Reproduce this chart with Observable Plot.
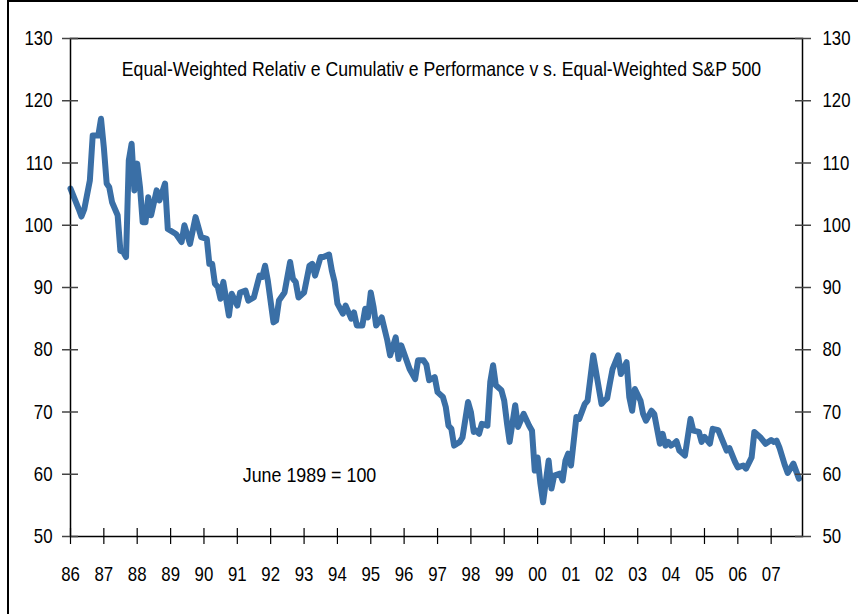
<!DOCTYPE html>
<html>
<head>
<meta charset="utf-8">
<script src="https://cdn.jsdelivr.net/npm/d3@7"></script>
<script src="https://cdn.jsdelivr.net/npm/@observablehq/plot@0.6"></script>
<style>
  html, body { margin: 0; padding: 0; background: #fff; }
  #wrap { position: relative; width: 858px; height: 614px; overflow: hidden; }
  #border { position: absolute; left: 7px; top: 0px; width: 900px; height: 700px;
            border-left: 2.5px solid #000; border-top: 2.5px solid #000; pointer-events: none; }
</style>
</head>
<body>
<div id="wrap"><div id="chart"></div><div id="border"></div></div>
<script>
const title = "Equal-Weighted Relativ e Cumulativ e Performance v s. Equal-Weighted S&P 500";
const note = "June 1989 = 100";

const months = [
  "1986-01","1986-04","1986-05","1986-06","1986-08","1986-09","1986-11","1986-12",
  "1987-01","1987-02","1987-03","1987-04","1987-06","1987-07","1987-08","1987-09","1987-10","1987-11","1987-12",
  "1988-01","1988-02","1988-03","1988-04","1988-05","1988-06","1988-08","1988-09","1988-11","1988-12",
  "1989-03","1989-05","1989-06","1989-08","1989-10","1989-12",
  "1990-02","1990-03","1990-04","1990-05","1990-06","1990-07","1990-08","1990-10","1990-11",
  "1991-01","1991-02","1991-04","1991-05","1991-07","1991-09","1991-10","1991-11","1991-12",
  "1992-02","1992-03","1992-04","1992-06","1992-08","1992-09","1992-10","1992-11",
  "1993-01","1993-03","1993-04","1993-05","1993-07","1993-08","1993-10","1993-11","1993-12",
  "1994-01","1994-03","1994-04","1994-06","1994-07","1994-08","1994-10","1994-11","1994-12",
  "1995-01","1995-02","1995-03","1995-05","1995-07","1995-08","1995-10","1995-11","1995-12",
  "1996-01","1996-03","1996-05","1996-06","1996-08","1996-09","1996-10","1996-12",
  "1997-01","1997-03","1997-04","1997-05","1997-06","1997-07","1997-09","1997-10","1997-12",
  "1998-01","1998-02","1998-03","1998-04","1998-05","1998-07","1998-08","1998-09","1998-10","1998-12",
  "1999-01","1999-02","1999-03","1999-05","1999-06","1999-08","1999-10","1999-11","1999-12",
  "2000-01","2000-02","2000-03","2000-05","2000-06","2000-07","2000-09","2000-10","2000-11","2000-12",
  "2001-01","2001-03","2001-04","2001-06","2001-07","2001-09","2001-12",
  "2002-01","2002-02","2002-03","2002-04","2002-06","2002-07","2002-09","2002-10","2002-11","2002-12",
  "2003-02","2003-03","2003-04","2003-06","2003-07","2003-09","2003-10","2003-11","2003-12",
  "2004-01","2004-02","2004-03","2004-04","2004-06","2004-08","2004-09","2004-11","2004-12",
  "2005-01","2005-03","2005-04","2005-06","2005-07","2005-09","2005-10","2005-12",
  "2006-01","2006-03","2006-04","2006-06","2006-07","2006-09","2006-11",
  "2007-01","2007-02","2007-03","2007-04","2007-06","2007-07","2007-09","2007-11"
];
const values = [
  105.9,102.6,101.4,102.6,107.2,114.4,114.4,117.1,
  112.5,106.7,106.1,103.7,101.6,95.9,95.7,94.9,110.4,113.1,105.6,
  109.9,106.1,100.5,100.5,104.5,101.6,105.6,104.0,106.7,99.4,
  98.6,97.3,100.0,97.0,101.3,98.1,
  97.8,93.8,93.8,90.6,90.1,88.2,90.9,85.5,89.0,
  87.1,89.2,89.5,87.9,88.4,91.9,91.7,93.5,91.1,
  84.4,84.7,87.9,89.2,94.1,91.4,90.9,88.4,
  89.2,93.5,93.8,91.9,94.9,94.9,95.3,92.7,90.9,
  87.4,85.8,87.1,85.0,86.0,83.9,83.9,86.6,85.2,
  89.2,86.8,83.9,85.2,81.5,79.1,82.0,78.5,80.7,
  79.4,76.9,75.3,78.3,78.3,77.6,75.1,75.6,
  73.2,72.4,70.8,67.8,67.3,64.6,65.2,65.9,71.6,
  70.0,66.8,67.0,66.5,68.1,67.8,74.8,77.5,74.3,73.5,
  71.8,68.1,65.2,71.1,67.6,69.7,67.8,67.0,60.6,
  62.7,58.5,55.5,62.2,57.7,59.8,60.1,59.0,62.2,63.3,
  61.4,69.2,68.9,71.3,71.8,79.1,71.3,
  71.8,72.2,74.5,76.9,79.1,76.1,78.0,72.4,70.2,73.7,
  71.8,69.7,68.6,70.2,69.7,64.9,66.5,64.6,65.2,
  64.6,64.9,65.3,63.8,63.0,68.9,67.0,66.8,65.2,
  66.0,64.9,67.3,67.1,66.0,63.8,64.2,62.0,
  61.1,61.4,60.9,62.7,66.8,66.0,64.9,
  65.5,65.2,65.4,64.3,61.4,60.2,61.7,59.3
];
const tickYears = [1986,1987,1988,1989,1990,1991,1992,1993,1994,1995,1996,1997,1998,1999,2000,2001,2002,2003,2004,2005,2006,2007];
const yTicks = [50,60,70,80,90,100,110,120,130];

const parse = d3.utcParse("%Y-%m");
const data = months.map((m, i) => ({date: parse(m), value: values[i]}));
const xTicks = tickYears.map(y => new Date(Date.UTC(y, 0, 1)));
const xDomain = [new Date(Date.UTC(1986, 0, 1)), new Date(Date.UTC(2007, 11, 10))];
const fmt = d3.utcFormat("%y");
const FONT = "'Liberation Sans', Arial, sans-serif";

const chart = Plot.plot({
  width: 858,
  height: 614,
  marginLeft: 70,
  marginRight: 56,
  marginTop: 38,
  marginBottom: 78,
  style: {fontFamily: FONT, fontSize: "21px", background: "#fff", color: "#000"},
  x: {type: "utc", domain: xDomain},
  y: {domain: [50, 130]},
  marks: [
    Plot.lineY(data, {x: "date", y: "value", stroke: "#3a6fa6", strokeWidth: 6, strokeLinejoin: "round", strokeLinecap: "round"}),
    Plot.frame({stroke: "#000", strokeWidth: 1.5}),
    Plot.axisY({anchor: "left", ticks: yTicks, tickSize: 16, dx: 8, fill: "none", stroke: "#444", strokeWidth: 1.5, label: null}),
    Plot.axisY({anchor: "right", ticks: yTicks, tickSize: 16, dx: -8, fill: "none", stroke: "#444", strokeWidth: 1.5, label: null}),
    Plot.axisX({anchor: "bottom", ticks: xTicks, tickSize: 16, dy: -8, fill: "none", stroke: "#000", strokeWidth: 1.2, label: null}),
    Plot.axisY({anchor: "left", ticks: yTicks, tickSize: 0, tickPadding: 18, stroke: "none", label: null}),
    Plot.axisY({anchor: "right", ticks: yTicks, tickSize: 0, tickPadding: 20, stroke: "none", label: null}),
    Plot.axisX({anchor: "bottom", ticks: xTicks, tickFormat: fmt, tickSize: 0, tickPadding: 30, stroke: "none", label: null}),
    Plot.text([title], {frameAnchor: "top", dx: 5, dy: 23, fontSize: 21, fill: "#000", className: "squeeze-title"}),
    Plot.text([note], {frameAnchor: "bottom-left", dx: 239, dy: -55, textAnchor: "middle", fontSize: 21, fill: "#000", className: "squeeze-note"})
  ]
});
document.getElementById("chart").appendChild(chart);

// condensed look: squeeze glyphs horizontally (Arial Narrow-like)
chart.querySelectorAll("text").forEach(t => {
  const w = t.getComputedTextLength();
  if (w > 0) {
    let k = 0.8;
    if (t.closest(".squeeze-title")) k = 0.84;
    if (t.closest(".squeeze-note")) k = 0.85;
    t.setAttribute("textLength", (w * k).toFixed(1));
    t.setAttribute("lengthAdjust", "spacingAndGlyphs");
  }
});
</script>
</body>
</html>
